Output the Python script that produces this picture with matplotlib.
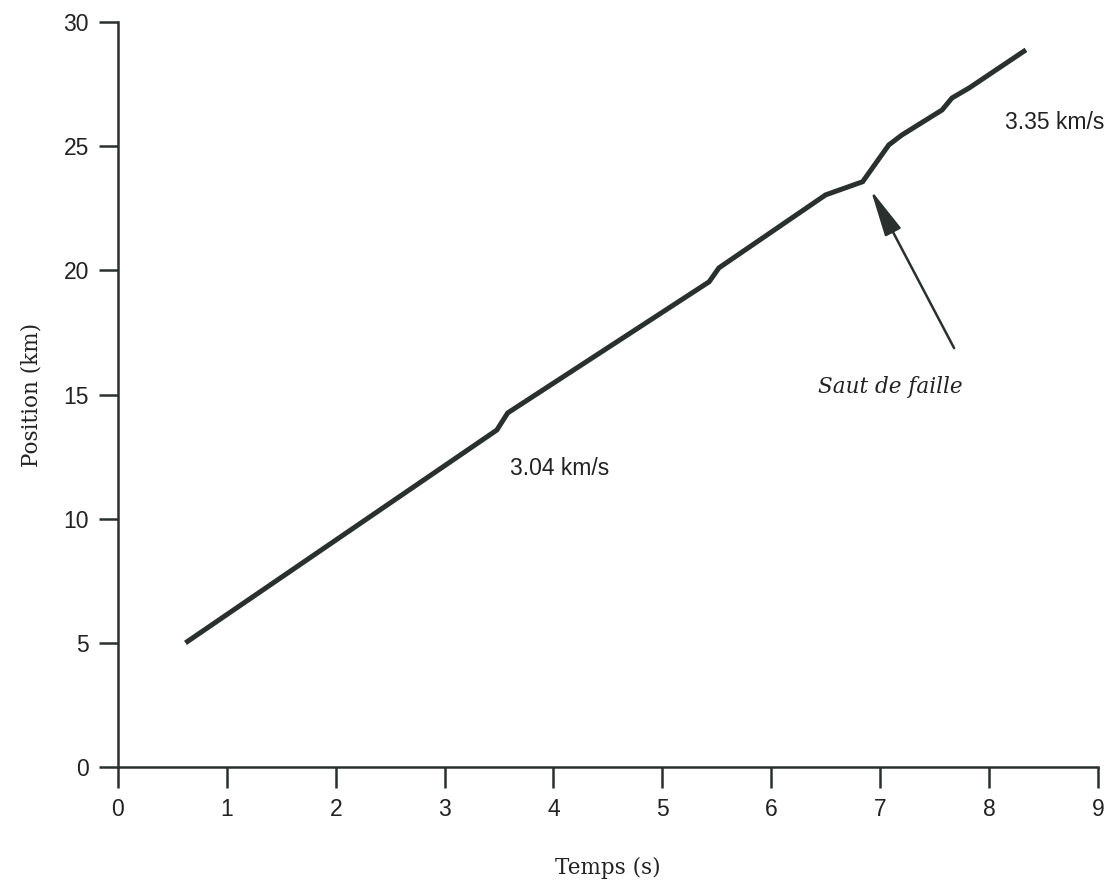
import matplotlib
matplotlib.use("Agg")
import matplotlib.pyplot as plt

# Data
temps = [0.62, 3.48, 3.58, 5.43, 5.52, 6.50, 6.84, 7.08, 7.20, 7.57, 7.66, 7.82, 8.34]
position = [5.00, 13.57, 14.26, 19.54, 20.10, 23.04, 23.57, 25.05, 25.45, 26.46, 26.94, 27.35, 28.88]
x_ticks = [0, 1, 2, 3, 4, 5, 6, 7, 8, 9]
y_ticks = [0, 5, 10, 15, 20, 25, 30]
arrow_tip = (6.915, 23.24)
arrow_tail = (7.68, 16.87)
label_v1 = "3.04 km/s"
label_v2 = "3.35 km/s"
label_fault = "Saut de faille"

ink = "#2a302e"
txt = "#222222"
sans = ["Liberation Sans", "DejaVu Sans"]
serif = ["DejaVu Serif"]

fig = plt.figure(figsize=(11.16, 8.85), dpi=100)
ax = fig.add_axes([0.1057, 0.1333, 0.878, 0.8418])

ax.plot(temps, position, color=ink, lw=3.6, solid_capstyle="butt", solid_joinstyle="miter")

ax.set_xlim(0, 9)
ax.set_ylim(0, 30)
ax.set_xticks(x_ticks)
ax.set_yticks(y_ticks)
ax.set_xticklabels([str(v) for v in x_ticks], family=sans, fontsize=16.5, color=txt)
ax.set_yticklabels([str(v) for v in y_ticks], family=sans, fontsize=16.5, color=txt)

for s in ("top", "right"):
    ax.spines[s].set_visible(False)
for s in ("left", "bottom"):
    ax.spines[s].set_linewidth(1.8)
    ax.spines[s].set_color(ink)

ax.tick_params(axis="y", direction="out", length=14, width=1.8, color=ink, pad=7)
ax.tick_params(axis="x", direction="out", length=15, width=1.8, color=ink, pad=7)

ax.set_xlabel("Temps (s)", family=serif, fontsize=15.5, color=txt, labelpad=26)
ax.set_ylabel("Position (km)", family=serif, fontsize=15.5, color=txt, labelpad=15)

ax.text(3.6, 12.04, label_v1, family=sans, fontsize=16.5, color=txt, va="center", ha="left")
ax.text(8.15, 25.94, label_v2, family=sans, fontsize=16.5, color=txt, va="center", ha="left")
ax.text(7.09, 15.3, label_fault, family=serif, style="italic", fontsize=15.5,
        color=txt, va="center", ha="center")

ax.annotate("", xy=arrow_tip, xytext=arrow_tail,
            arrowprops=dict(arrowstyle="-|>,head_length=2.9,head_width=0.55",
                            lw=1.8, color=ink, shrinkA=0, shrinkB=0))

fig.savefig("out.png", dpi=100, facecolor="white")
